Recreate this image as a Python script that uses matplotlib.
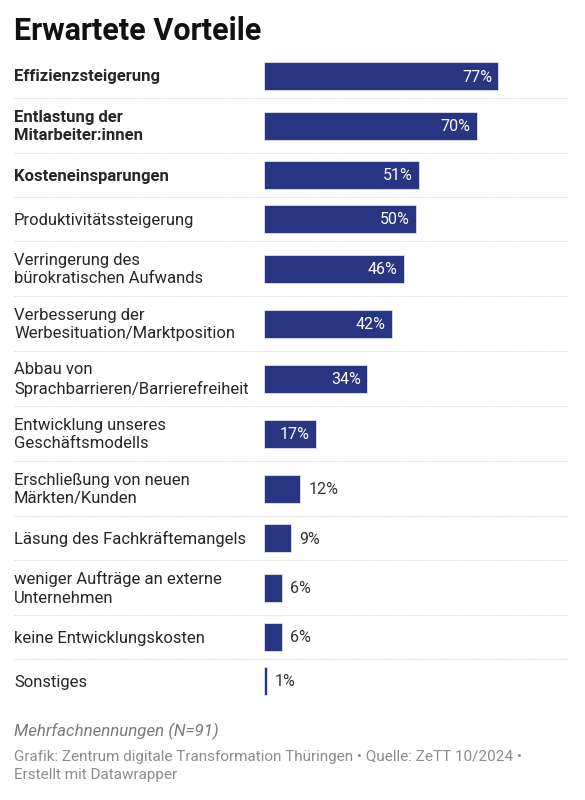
import matplotlib.pyplot as plt
import matplotlib.transforms as mtransforms
from matplotlib.lines import Line2D

plt.rcParams['font.family'] = ['Roboto', 'DejaVu Sans']

# Daten
labels = ['Effizienzsteigerung',
          'Entlastung der\nMitarbeiter:innen',
          'Kosteneinsparungen',
          'Produktivitätssteigerung',
          'Verringerung des\nbürokratischen Aufwands',
          'Verbesserung der\nWerbesituation/Marktposition',
          'Abbau von\nSprachbarrieren/Barrierefreiheit',
          'Entwicklung unseres\nGeschäftsmodells',
          'Erschließung von neuen\nMärkten/Kunden',
          'Läsung des Fachkräftemangels',
          'weniger Aufträge an externe\nUnternehmen',
          'keine Entwicklungskosten',
          'Sonstiges']
values = [77, 70, 51, 50, 46, 42, 34, 17, 12, 9, 6, 6, 1]

title = 'Erwartete Vorteile'
note = 'Mehrfachnennungen (N=91)'
source = ('Grafik: Zentrum digitale Transformation Thüringen • Quelle: ZeTT 10/2024 •\n'
          'Erstellt mit Datawrapper')

BAR_COLOR = '#283583'
W, H = 585, 800
n_bold = 3

# Zeilenhöhen (Pixel) je nach Anzahl der Zeilen
top = 54
row_h = [44 if '\n' not in l else 55 for l in labels]
edges = [top]
for h in row_h:
    edges.append(edges[-1] + h)
centers = [(edges[i] + edges[i + 1]) / 2 for i in range(len(labels))]

fig = plt.figure(figsize=(W / 100, H / 100), dpi=100)
x0, x1 = 264, 568
ax = fig.add_axes([x0 / W, 1 - edges[-1] / H, (x1 - x0) / W, (edges[-1] - top) / H])
ax.set_xlim(0, 100)
ax.set_ylim(edges[-1], top)
ax.axis('off')

ax.barh(centers, values, height=28, color=BAR_COLOR, edgecolor='#dfe2f0', linewidth=0.6)

blend = mtransforms.blended_transform_factory(fig.transFigure, ax.transData)
pad_in = ax.transData + mtransforms.ScaledTranslation(-6 / 100, 0, fig.dpi_scale_trans)
pad_out = ax.transData + mtransforms.ScaledTranslation(8 / 100, 0, fig.dpi_scale_trans)
for i, (lab, v, yc) in enumerate(zip(labels, values, centers)):
    ax.text(14 / W, yc + 1, lab, transform=blend, ha='left', va='center',
            fontsize=12, color='#262626', linespacing=1.3,
            fontweight='bold' if i < n_bold else 'normal')
    if v >= 15:
        ax.text(v, yc + 1, f'{v}%', ha='right', va='center', fontsize=11.5,
                color='white', transform=pad_in)
    else:
        ax.text(v, yc + 1, f'{v}%', ha='left', va='center', fontsize=11.5,
                color='#333333', transform=pad_out)

# gepunktete Trennlinien
for e in edges[1:-1]:
    ax.add_line(Line2D([14 / W, 569 / W], [e, e], transform=blend, color='#d4d4d4',
                       linewidth=0.8, linestyle=(0, (1, 1.2)), clip_on=False))

fig.text(14 / W, 1 - 31 / H, title, fontsize=22, fontweight='bold', color='#111111',
         ha='left', va='center')
fig.text(14 / W, 1 - 731 / H, note, fontsize=12.2, style='italic', color='#7a7a7a',
         ha='left', va='center')
fig.text(14 / W, 1 - 766 / H, source, fontsize=11, color='#8c8c8c',
         ha='left', va='center', linespacing=1.35)

fig.savefig('out.png', dpi=100, facecolor='white')
